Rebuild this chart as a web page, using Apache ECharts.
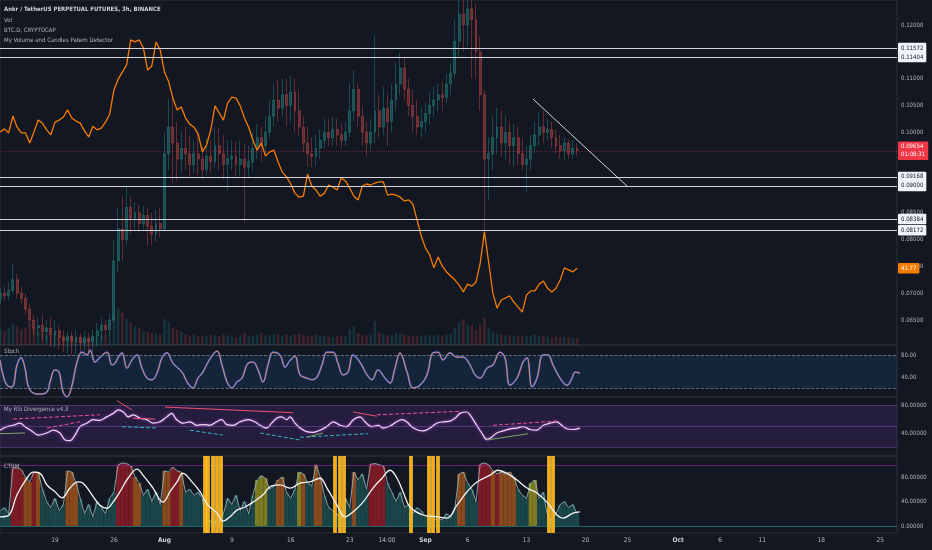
<!DOCTYPE html>
<html><head><meta charset="utf-8">
<script src="https://cdn.jsdelivr.net/npm/echarts/dist/echarts.min.js"></script>
<style>html,body{margin:0;padding:0;background:#131722;}#c{width:932px;height:550px;}</style>
</head><body><div id="c"></div>
<script>
// ---------- DATA ----------
// time unit: days since 2021-07-01 00:00
const CANDLE_START = 11.5, CANDLE_STEP = 0.5;   // 12h candles
const candles = [ // [open, close, low, high]
[.0690,.0700,.0680,.0710],[.0700,.0695,.0685,.0712],[.0695,.0705,.0688,.0720],[.0705,.0725,.0698,.0756],[.0725,.0700,.0690,.0735],
[.0700,.0690,.0678,.0712],[.0690,.0670,.0660,.0700],[.0670,.0650,.0640,.0680],[.0650,.0635,.0622,.0660],[.0635,.0640,.0618,.0655],
[.0640,.0628,.0612,.0660],[.0628,.0635,.0608,.0650],[.0635,.0622,.0600,.0655],[.0622,.0630,.0598,.0650],[.0630,.0618,.0595,.0640],
[.0618,.0612,.0590,.0630],[.0612,.0620,.0588,.0630],[.0620,.0610,.0585,.0628],[.0610,.0618,.0586,.0632],[.0618,.0608,.0584,.0625],
[.0608,.0615,.0585,.0628],[.0615,.0610,.0588,.0626],[.0610,.0620,.0590,.0632],[.0620,.0630,.0600,.0645],[.0630,.0640,.0612,.0655],
[.0640,.0632,.0618,.0650],[.0632,.0650,.0622,.0662],[.0650,.0760,.0645,.0800],[.0760,.0820,.0740,.0860],[.0820,.0800,.0760,.0880],
[.0800,.0860,.0790,.0898],[.0860,.0840,.0810,.0880],[.0840,.0850,.0820,.0870],[.0850,.0830,.0815,.0865],[.0830,.0845,.0820,.0862],
[.0845,.0825,.0788,.0858],[.0825,.0810,.0790,.0850],[.0810,.0830,.0795,.0855],[.0830,.0820,.0805,.0860],[.0820,.0960,.0815,.0999],
[.0960,.1010,.0930,.1062],[.1010,.0980,.0906,.1065],[.0980,.0950,.0910,.1020],[.0950,.0970,.0925,.1000],[.0970,.0960,.0930,.1010],
[.0960,.0940,.0915,.0995],[.0940,.0960,.0925,.0985],[.0960,.0950,.0920,.1000],[.0950,.0930,.0912,.0975],[.0930,.0955,.0920,.0990],
[.0955,.0945,.0925,.0985],[.0945,.0975,.0935,.1010],[.0975,.0960,.0930,.1008],[.0960,.0940,.0912,.0995],[.0940,.0950,.0892,.0985],
[.0950,.0955,.0930,.0985],[.0955,.0940,.0918,.0982],[.0940,.0950,.0920,.0985],[.0950,.0935,.0832,.0978],[.0935,.0945,.0915,.0975],
[.0945,.0970,.0928,.1000],[.0970,.0990,.0950,.1015],[.0990,.0975,.0945,.1010],[.0975,.1000,.0960,.1030],[.1000,.1030,.0990,.1060],
[.1030,.1060,.1010,.1090],[.1060,.1045,.1020,.1098],[.1045,.1070,.1030,.1100],[.1070,.1050,.1010,.1100],[.1050,.1075,.1020,.1105],
[.1075,.1040,.1000,.1100],[.1040,.1010,.0995,.1080],[.1010,.0980,.0962,.1030],[.0980,.0960,.0936,.1010],[.0960,.0955,.0935,.0990],
[.0955,.0970,.0938,.0995],[.0970,.0985,.0950,.1005],[.0985,.1000,.0970,.1025],[.1000,.0990,.0975,.1025],[.0990,.1005,.0975,.1028],
[.1005,.0995,.0975,.1025],[.0995,.0985,.0970,.1015],[.0985,.1000,.0975,.1020],[.1000,.1040,.0990,.1092],[.1040,.1080,.1020,.1116],
[.1080,.1030,.1010,.1090],[.1030,.1000,.0975,.1050],[.1000,.0980,.0955,.1020],[.0980,.1000,.0965,.1025],[.1000,.1040,.0980,.1181],
[.1040,.1010,.0990,.1070],[.1010,.1045,.0995,.1085],[.1045,.1020,.0975,.1070],[.1020,.1060,.1000,.1090],[.1060,.1090,.1040,.1130],
[.1090,.1120,.1070,.1148],[.1120,.1080,.1060,.1140],[.1080,.1050,.1030,.1100],[.1050,.1030,.1000,.1080],[.1030,.1010,.0995,.1060],
[.1010,.1020,.0990,.1045],[.1020,.1035,.1000,.1055],[.1035,.1050,.1015,.1075],[.1050,.1060,.1030,.1085],[.1060,.1070,.1040,.1090],
[.1070,.1065,.1040,.1095],[.1065,.1090,.1055,.1110],[.1090,.1110,.1070,.1130],[.1110,.1170,.1100,.1210],[.1170,.1220,.1140,.1250],
[.1220,.1200,.1150,.1260],[.1200,.1230,.1160,.1265],[.1230,.1210,.1100,.1260],[.1210,.1150,.1100,.1240],[.1150,.1070,.1040,.1180],
[.1070,.0950,.0818,.1080],[.0950,.0960,.0874,.0990],[.0960,.0990,.0930,.1030],[.0990,.1010,.0960,.1045],[.1010,.0980,.0955,.1040],
[.0980,.1000,.0950,.1030],[.1000,.0975,.0940,.1020],[.0975,.0990,.0935,.1015],[.0990,.0960,.0940,.1010],[.0960,.0940,.0930,.0990],
[.0940,.0950,.0887,.0975],[.0950,.0975,.0930,.0995],[.0975,.0995,.0960,.1020],[.0995,.1010,.0975,.1036],[.1010,.1000,.0980,.1040],
[.1000,.1005,.0985,.1025],[.1005,.0990,.0970,.1020],[.0990,.0975,.0960,.1005],[.0975,.0965,.0950,.0995],[.0965,.0980,.0948,.0990],
[.0980,.0960,.0950,.0985],[.0960,.0970,.0950,.0985],[.0970,.09654,.0955,.0980]
];
const volume = [18,16,20,25,22,18,20,24,20,16, 14,12,10,12,10,11,9,10,8,9, 10,9,8,10,12,11,14, 35,42,38,30,26,22,20,
 16,15,14,13,12, 30,26,20,18,15, 12,11,12,10,11,10,12,11,10,12,11,10,9,11,14,10,11, 12,14,11,12,13,12,11,12,11,12,
 13,11,10,11,12,10,11,10,9,10,11,10, 18,22,14,12,11,12,28,15,13, 12,11,14,13,12,11,10,11,10,11,12,11,12,11,12,13,
 20,26,30,24,22,18, 24,32,20, 15,13,12,11,12,11,10,11,10,11,12,10,11,10,9,10,9,10,9,8,8];
const btcD = [45.80,45.89,45.77,46.27,45.94,45.77,45.77,45.47,45.80,46.15,
 46.06,45.86,45.71,46.09,46.15,46.24,46.45,46.21,46.12,46.06,
 45.83,45.65,45.97,45.86,45.91,46.09,46.33,47.04,47.36,47.57,
 47.78,48.52,48.46,48.52,48.28,47.63,47.75,48.46,48.22,47.57,
 47.28,46.80,46.45,46.54,46.21,46.03,45.94,45.74,45.21,45.41,
 45.86,46.57,46.36,46.15,46.65,46.83,46.80,46.57,46.21,45.94,
 45.56,45.26,45.47,45.09,45.21,45.26,44.91,44.61,44.47,44.26,
 43.99,43.87,43.90,44.55,44.20,44.08,43.90,43.99,44.23,44.17,
 44.08,44.44,44.35,44.14,43.90,43.79,44.20,44.26,44.23,44.29,
 44.32,44.32,43.93,43.96,43.93,43.87,43.76,43.79,43.67,43.19,
 42.72,42.37,42.16,41.78,42.10,41.83,41.66,41.54,41.42,41.27,
 41.07,41.30,41.24,41.36,41.92,42.85,41.95,41.04,40.59,40.83,
 40.89,40.95,40.77,40.62,40.47,40.98,41.10,41.10,41.30,41.39,
 41.18,41.07,41.18,41.42,41.78,41.72,41.66,41.77];
const levels = [0.11572, 0.11404, 0.09168, 0.09000, 0.08384, 0.08172];
const trendLine = [[74.77, 0.1062], [86.05, 0.0898]];
const countdown = '01:08:31';
const priceTicks = [0.065, 0.07, 0.075, 0.08, 0.085, 0.10, 0.105, 0.11, 0.12];

const stochTime = [11.47,11.82,12.30,12.89,13.49,13.96,14.44,14.79,15.39,16.22,
 17.05,17.41,18.00,18.48,18.95,19.43,20.02,20.61,21.21,21.80,
 22.16,22.75,23.34,24.18,24.77,25.13,25.48,25.96,26.55,27.14,
 27.74,28.33,28.93,29.52,30.11,30.71,31.30,32.01,33.08,33.68,
 34.39,34.98,35.58,36.17,37.24,37.83,38.43,39.02,39.61,40.21,
 40.92,41.52,42.11,42.70,43.30,43.89,44.72,45.32,45.91,46.50,
 47.10,47.93,48.52,49.12,49.71,50.30,51.02,51.61,52.20,52.80,
 53.39,54.22,55.05,55.65,56.36,57.19,57.79,58.38,58.97,59.81,
 60.52,61.35,62.18,62.89,63.49,64.08,64.91,65.74,66.46,67.29,
 67.88,68.48,69.31,70.02,70.85,71.44,72.04,72.87,73.58,74.06,
 74.65,75.24,75.96,76.55,77.14,77.98,78.81,79.40,79.76,80.35];
const stochK = [71,44,25,22,62,75,56,25,11,9, 13,31,53,49,13,4,25,67,85,80,
 89,67,76,85,62,65,75,84,56,71, 80,56,38,35,47,75,84,65,49,31,
 20,38,49,67,87,62,31,20,31,38, 65,67,53,31,62,85,80,58,70,78,
 44,38,35,40,62,85,85,65,44,49, 80,67,44,35,53,38,29,56,84,49,
 20,25,44,84,85,71,84,76,76,62, 44,38,56,62,85,75,25,38,67,75,
 22,38,80,80,62,38,25,38,49,47];

const rsiTime = [11.47,12.26,13.05,13.84,14.44,15.23,16.02,17.01,17.80,18.59,
 19.19,19.78,20.38,20.97,21.76,22.55,23.34,24.14,24.93,25.52,
 26.11,26.71,27.30,28.09,28.89,29.68,30.47,31.27,31.86,32.45,
 33.24,34.03,34.83,35.62,36.41,37.20,37.80,38.39,39.18,39.97,
 40.96,41.75,42.35,43.14,43.73,44.33,44.92,45.52,
 45.91,46.50,47.10,47.89,48.68,49.47,50.27,51.05,51.85,52.64,
 53.43,54.22,54.82,55.61,56.40,56.99,57.79,58.58,59.17,59.77,
 60.36,61.15,61.74,62.54,63.33,64.12,64.91,65.50,66.10,66.89,
 67.29,68.08,68.68,69.27,69.86,70.46,71.24,72.04,72.83,73.62,
 74.41,75.21,76.00,76.79,77.58,78.18,78.77,79.56,80.35];
const rsiVal = [44,49,51,54,49,43,37,40,44,40, 30,29,37,49,54,59,58,63,68,73,
 70,63,66,61,59,54,56,63,68,59, 54,56,51,52,51,56,59,52,51,56,
 59,56,51,47,54,61,63,59,
 63,54,47,42,41,44,49,56,51,49, 59,63,56,49,51,47,50,56,59,56,
 49,44,43,47,54,56,57,61,68,70, 66,51,40,31,34,40,43,46,47,49,
 45,44,51,54,56,51,46,45,47];
// divergence segments: [t1, v1, t2, v2]
const divBear = [[25.36,86,27.14,73],[27.26,61,29.88,60],[31.06,77,46.27,69],[53.39,70,56.24,64]];
const divHidden = [[13.01,60,23.34,66],[17.05,47,20.97,56],[56.24,66,66.10,71],[70.02,51,77.62,57]];
const divHiddenBull = [[25.96,49,30.11,47],[34.03,44,37.95,37],[42.35,40,47.10,30],[47.10,34,55.17,39]];
const divBull = [[11.47,39,14.44,40],[47.93,34,49.83,40],[69.31,30,74.18,39]];

const ctrmVal = [25,30,20,95,95,92,80,72,88,88, 60,40,30,45,25,35,90,88,70,45,
 20,35,15,40,30,20,45,55,100,103, 102,98,80,70,50,60,40,55,35,90,
 88,96,90,88,55,60,50,55,45,10, 8,6,8,20,45,35,50,25,40,20,
 50,75,82,78,60,65,75,80,55,45, 60,88,85,70,65,100,80,50,30,25,
 20,10,45,30,88,75,85,60,101,102, 100,98,70,55,40,55,30,35,20,30,
 25,15,20,10,12,10,20,15,30,85, 88,70,60,40,101,103,100,90,85,88,
 85,88,80,60,50,45,70,75,45,55, 15,10,20,35,40,30,35,20];
const ctrmState = ('tttrrrooro'+'ttttttooot'+'ttttttttrr'+'rroottttto'+'orrotttttt'+'tttttttttt'+
 'tyyyttoott'+'tyottoottt'+'ttttotttrr'+'rrtttttttt'+'ttttttttto'+'otttrrroro'+'ooottt'+'yytt'+'tttttttt').split('');
const ctrmSigTime = [11.47,12.45,13.49,14.67,15.39,16.22,17.05,18.00,18.83,19.78,
 20.73,21.33,22.39,23.34,24.18,24.89,25.72,26.67,27.74,28.45,
 29.64,30.83,31.66,32.49,33.20,34.27,35.22,36.17,37.24,37.95,
 38.78,39.61,40.56,41.52,42.70,43.53,44.72,45.91,47.10,48.29,
 49.47,50.30,51.49,52.44,53.39,54.58,55.77,56.84,57.79,58.62,
 59.33,60.16,61.71,63.37,64.56,65.74,66.93,68.12,69.66,70.61,
 71.68,72.87,74.06,75.24,76.43,77.62,78.33,79.52,80.35];
const ctrmSig = [15,17,51,78,88,86,67,56,46,62, 72,70,51,34,29,39,56,78,93,83,
 62,39,56,72,86,72,56,34,21,8, 15,26,31,39,51,64,67,62,70,72,
 78,62,34,15,23,39,62,78,91,78, 56,31,18,15,13,34,56,72,83,91,
 86,75,62,54,39,18,13,21,23];
const ctrmSignals = [35.81,36.17,36.76,37.24,37.71,51.25,51.85,52.32,60.28,62.42,62.83,63.43,76.61,77.08];

const xTickValues = [18,25,31,39,46,53,57.43,62,67,74,81,86,92,97,102,109,116];
const xTickLabels = ['19','26','Aug','9','16','23','14:00','Sep','6','13','20','25','Oct','6','11','18','25'];

// ---------- CHART ----------
const FONT = "'Liberation Sans Narrow','DejaVu Sans Condensed','Liberation Sans','Noto Sans',sans-serif";
const AX = '#b2b5be';
const X_MIN = 11.468, X_MAX = 118.0;
const tc = i => CANDLE_START + CANDLE_STEP * i;
const zip = (a, b) => a.slice(0, Math.min(a.length, b.length)).map((x, i) => [x, b[i]]);
const UP = 'rgba(38,166,154,0.36)', DN = 'rgba(239,83,80,0.36)';
const statePalette = {r:'#7b1b25', o:'#87491d', y:'#7c7b24', t:'#1a4649'};

const lastClose = candles[candles.length - 1][1];
const boxLabel = (txt, bg, fg) => ({show:true, position:'end', distance:1, formatter:txt, backgroundColor:bg,
  color:fg, fontSize:6, fontFamily:FONT, padding:[1.5,3,1,3], borderRadius:1, lineHeight:8});

const mainMarks = levels.map(v => ({yAxis:v, lineStyle:{color:'#d1d4dc', width:1.2, type:'solid'},
  label: boxLabel(v.toFixed(5), '#f0f3fa', '#131722')}));
mainMarks.push({yAxis:lastClose, lineStyle:{color:'rgba(242,54,69,0.35)', width:1, type:'dotted'},
  label: boxLabel(lastClose.toFixed(5) + '\n' + countdown, '#f23645', '#ffffff')});
mainMarks.push([{coord:trendLine[0], lineStyle:{color:'#d1d4dc', width:1, type:'solid'}, label:{show:false}}, {coord:trendLine[1]}]);

const seg = (arr, style) => arr.map(s => [{coord:[s[0], s[1]], lineStyle:style, label:{show:false}}, {coord:[s[2], s[3]]}]);
const rsiMarks = [80, 50, 20].map(v => ({yAxis:v, lineStyle:{color:'rgba(140,90,200,0.55)', width:0.8, type:'solid'}, label:{show:false}}))
  .concat(seg(divBear, {color:'#f0506e', width:1, type:'solid'}))
  .concat(seg(divHidden, {color:'#e6508f', width:1, type:'dashed'}))
  .concat(seg(divHiddenBull, {color:'#2bb3c0', width:1, type:'dashed'}))
  .concat(seg(divBull, {color:'#7da46a', width:1, type:'solid'}));

const ctrmMarks = [{yAxis:100, lineStyle:{color:'rgba(156,39,176,0.6)', width:1, type:'solid'}},
                   {yAxis:0, lineStyle:{color:'rgba(38,166,154,0.55)', width:1, type:'solid'}}];
ctrmSignals.forEach(x => {
  ctrmMarks.push({xAxis:x, lineStyle:{color:'#ffd740', width:3.5, type:'solid'}});
  ctrmMarks.push({xAxis:x, lineStyle:{color:'#ff9800', width:1.5, type:'solid'}});
});

const xBase = gi => ({type:'value', gridIndex:gi, min:X_MIN, max:X_MAX, axisLine:{show:false},
  axisTick:{show:false}, splitLine:{show:false}, axisLabel:{show:false}});
const xLast = xBase(3);
xLast.axisLabel = {show:true, customValues:xTickValues, margin:4, color:AX, fontSize:6.5, fontFamily:FONT,
  formatter: v => { const k = xTickValues.findIndex(x => Math.abs(x - v) < 1e-6); const s = k >= 0 ? xTickLabels[k] : '';
    return /^[A-Z]/.test(s) ? '{m|' + s + '}' : s; },
  rich:{m:{fontWeight:'bold', color:'#d1d4dc', fontSize:6.5, fontFamily:FONT}}};

const yLab = (vals, dig) => ({show:true, customValues:vals, formatter: v => v.toFixed(dig), color:AX,
  fontSize:6, fontFamily:FONT, margin:4});
const yBase = (gi, min, max) => ({type:'value', gridIndex:gi, min, max, position:'right',
  axisLine:{show:false}, axisTick:{show:false}, splitLine:{show:false}});

const titleStyle = (bold) => ({fontSize:6, fontFamily:FONT, fontWeight: bold ? 'bold' : 'normal', color: bold ? '#d1d4dc' : AX});
const mkTitle = (text, top, bold) => ({text, left:4, top, padding:0, textStyle:titleStyle(bold)});

const option = {
  animation:false,
  backgroundColor:'#131722',
  textStyle:{fontFamily:FONT},
  title:[
    mkTitle('Ankr / TetherUS PERPETUAL FUTURES, 3h, BINANCE', 6.5, true),
    mkTitle('Vol', 17, false),
    mkTitle('BTC.D, CRYPTOCAP', 27, false),
    mkTitle('My Volume and Candles Patern Detector', 37, false),
    mkTitle('Stoch', 348, false),
    mkTitle('My RSI Divergence v4.3', 406, false),
    mkTitle('CTRM', 463, false)
  ],
  grid:[
    {left:0, right:35, top:0, height:345, show:true, borderColor:'#2a2e39', borderWidth:1},
    {left:0, right:35, top:345, height:52, show:true, borderColor:'#2a2e39', borderWidth:1},
    {left:0, right:35, top:397, height:59, show:true, borderColor:'#2a2e39', borderWidth:1},
    {left:0, right:35, top:456, height:77, show:true, borderColor:'#2a2e39', borderWidth:1}
  ],
  xAxis:[xBase(0), xBase(1), xBase(2), xLast],
  yAxis:[
    Object.assign(yBase(0, 0.06034, 0.12466), {axisLabel:yLab(priceTicks, 5)}),
    {type:'value', gridIndex:0, min:39.5, max:49.7, show:false},
    {type:'value', gridIndex:0, min:0, max:400, show:false},
    Object.assign(yBase(1, 3.64, 98.2), {axisLabel:yLab([80, 40], 2)}),
    Object.assign(yBase(2, 7.14, 91.4), {axisLabel:yLab([80, 40], 5)}),
    Object.assign(yBase(3, -11.4, 114.3), {axisLabel:yLab([80, 40, 0], 5)})
  ],
  series:[
    {type:'bar', name:'Vol', xAxisIndex:0, yAxisIndex:2, barWidth:2.6, z:1,
     data: volume.map((v, i) => ({value:[tc(i), v], itemStyle:{color: candles[i][1] >= candles[i][0] ? 'rgba(38,166,154,0.2)' : 'rgba(239,83,80,0.2)'}}))},
    {type:'candlestick', name:'ANKRUSDT', xAxisIndex:0, yAxisIndex:0, barWidth:2.4, z:2,
     data: candles.map((c, i) => [tc(i), c[0], c[1], c[2], c[3]]),
     itemStyle:{color:UP, color0:DN, borderColor:UP, borderColor0:DN, borderWidth:1},
     markLine:{silent:true, precision:6, symbol:['none','none'], animation:false, data:mainMarks}},
    {type:'line', name:'BTC.D', xAxisIndex:0, yAxisIndex:1, symbol:'none', z:4,
     data: btcD.map((v, i) => [tc(i), v]), lineStyle:{color:'#f57c00', width:1.3},
     markLine:{silent:true, precision:4, symbol:['none','none'], data:[{yAxis:btcD[btcD.length - 1], lineStyle:{color:'rgba(0,0,0,0)', width:0},
       label: boxLabel(btcD[btcD.length - 1].toFixed(2), '#f57c00', '#ffffff')}]}},
    {type:'line', name:'%K', xAxisIndex:1, yAxisIndex:3, symbol:'none', smooth:0.4,
     data: zip(stochTime, stochK), lineStyle:{color:'#2962ff', width:1.8},
     markArea:{silent:true, itemStyle:{color:'rgba(33,150,243,0.11)'}, data:[[{yAxis:20}, {yAxis:80}]]},
     markLine:{silent:true, symbol:['none','none'], label:{show:false},
       data:[{yAxis:80}, {yAxis:20}], lineStyle:{color:'#787b86', width:0.8, type:'dashed'}}},
    {type:'line', name:'%D', xAxisIndex:1, yAxisIndex:3, symbol:'none', smooth:0.4,
     data: zip(stochTime, stochK), lineStyle:{color:'#f08a3c', width:1, opacity:1}},
    {type:'line', name:'RSI', xAxisIndex:2, yAxisIndex:4, symbol:'none', smooth:0.35, z:4,
     data: zip(rsiTime, rsiVal), lineStyle:{color:'#eadcf2', width:1.2, shadowColor:'#c040e0', shadowBlur:3},
     markArea:{silent:true, itemStyle:{color:'rgba(130,60,200,0.17)'}, data:[[{yAxis:20}, {yAxis:80}]]},
     markLine:{silent:true, precision:4, symbol:['none','none'], label:{show:false}, data:rsiMarks}},
    {type:'bar', name:'CTRM', xAxisIndex:3, yAxisIndex:5, barWidth:4.3, z:2,
     data: ctrmVal.map((v, i) => ({value:[tc(i), v], itemStyle:{color: statePalette[ctrmState[i]] || statePalette.t}})),
     markLine:{silent:true, precision:4, symbol:['none','none'], label:{show:false}, data:ctrmMarks}},
    {type:'line', name:'CTRM line', xAxisIndex:3, yAxisIndex:5, symbol:'none', z:3,
     data: ctrmVal.map((v, i) => [tc(i), v]), lineStyle:{color:'#8fb0b4', width:0.9}},
    {type:'line', name:'CTRM signal', xAxisIndex:3, yAxisIndex:5, symbol:'none', smooth:0.4, z:5,
     data: zip(ctrmSigTime, ctrmSig), lineStyle:{color:'#f5f5f5', width:1.3}}
  ]
};
const chart = echarts.init(document.getElementById('c'));
chart.setOption(option);
</script></body></html>
